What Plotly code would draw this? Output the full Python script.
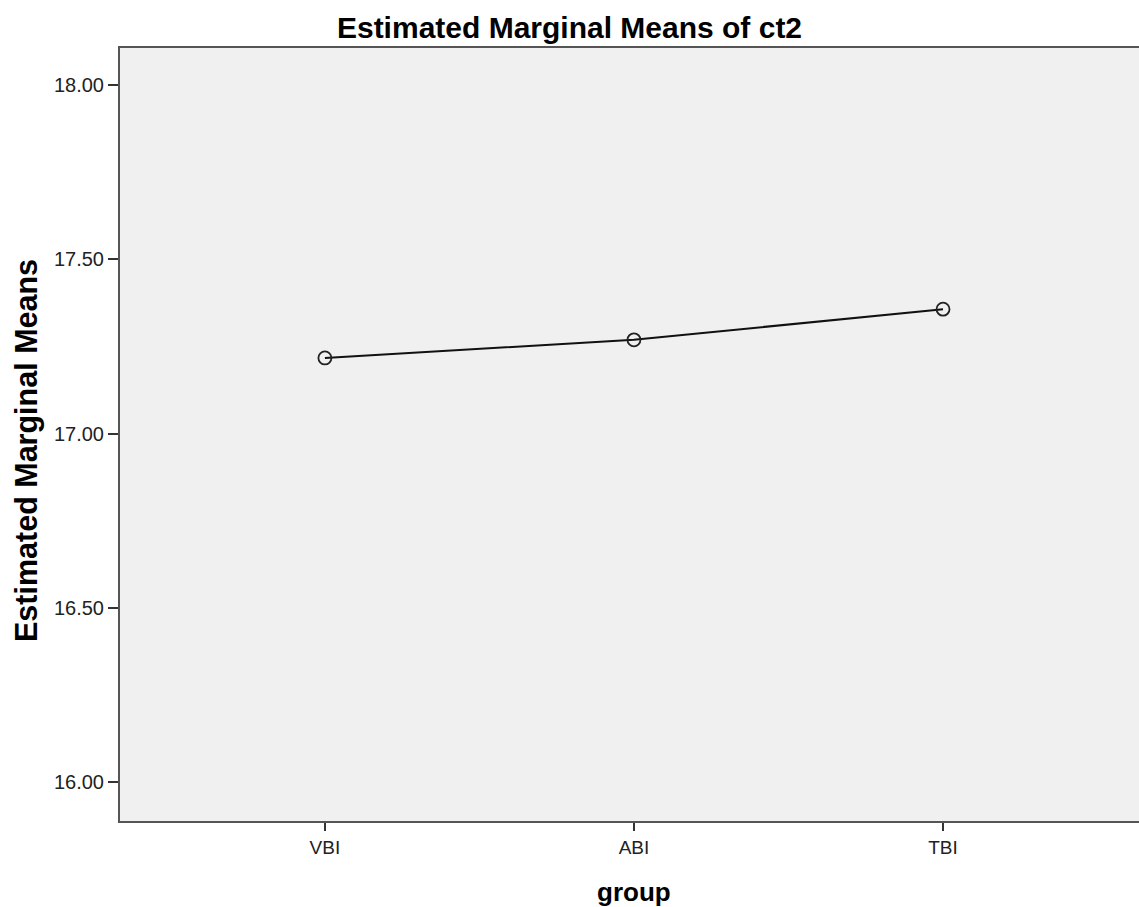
import plotly.graph_objects as go

groups = ["VBI", "ABI", "TBI"]
means = [17.217, 17.269, 17.357]
y_ticks = [16.0, 16.5, 17.0, 17.5, 18.0]
y_tick_labels = ["16.00", "16.50", "17.00", "17.50", "18.00"]

FONT = "Liberation Sans, Arial, sans-serif"

fig = go.Figure()
fig.add_trace(go.Scatter(
    x=list(range(len(groups))),
    y=means,
    mode="lines+markers",
    line=dict(color="#111111", width=2),
    marker=dict(symbol="circle-open", size=13, color="#222222",
                line=dict(width=1.8, color="#222222")),
    showlegend=False,
    hoverinfo="skip",
))

fig.update_layout(
    width=1147, height=907,
    margin=dict(l=120, r=0, t=48, b=86),
    paper_bgcolor="white",
    plot_bgcolor="#F0F0F0",
    font=dict(family=FONT, color="#222222"),
    title=dict(text="<b>Estimated Marginal Means of ct2</b>",
               x=569.5 / 1147, xref="container", xanchor="center",
               y=1 - 27 / 907, yref="container", yanchor="middle",
               font=dict(size=30, color="#000000", family=FONT)),
    xaxis=dict(
        range=[-0.663, 2.660],
        tickmode="array",
        tickvals=list(range(len(groups))),
        ticktext=groups,
        showgrid=False, zeroline=False,
        showline=True, linecolor="#555555", linewidth=2, mirror=True,
        ticks="outside", ticklen=8, tickwidth=2, tickcolor="#333333",
        tickfont=dict(size=19, color="#222222", family=FONT),
    ),
    yaxis=dict(
        range=[15.889, 18.106],
        tickmode="array",
        tickvals=y_ticks,
        ticktext=y_tick_labels,
        showgrid=False, zeroline=False,
        showline=True, linecolor="#555555", linewidth=2,
        ticks="outside", ticklen=10, tickwidth=2, tickcolor="#333333",
        tickfont=dict(size=20, color="#222222", family=FONT),
    ),
    annotations=[
        dict(text="<b>Estimated Marginal Means</b>", textangle=-90,
             xref="paper", yref="paper",
             x=(26 - 120) / 1027, y=(821 - 451) / 773,
             xanchor="center", yanchor="middle", showarrow=False,
             font=dict(size=30.5, color="#000000", family=FONT)),
        dict(text="<b>group</b>",
             xref="x", yref="paper",
             x=1, y=(821 - 892) / 773,
             xanchor="center", yanchor="middle", showarrow=False,
             font=dict(size=26, color="#000000", family=FONT)),
    ],
)

fig.write_html(
    "out.html",
    config={"displayModeBar": False},
    post_script="document.body.style.margin='0';document.body.style.overflow='hidden';",
)
